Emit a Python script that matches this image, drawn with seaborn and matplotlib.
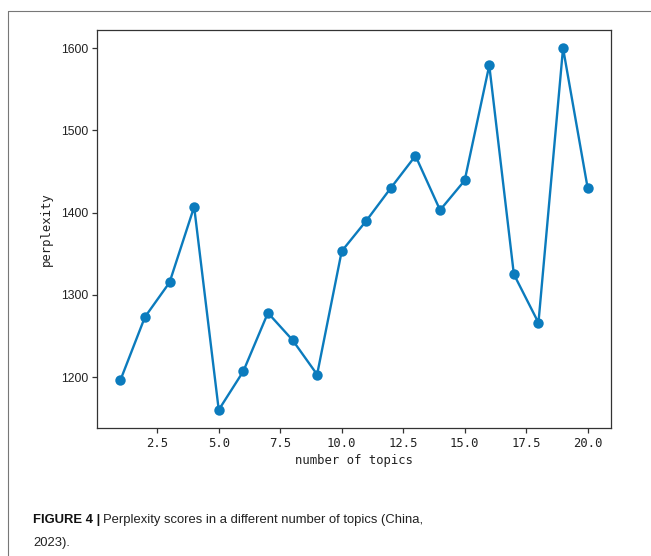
import matplotlib
matplotlib.use("Agg")
import matplotlib.pyplot as plt
from matplotlib.lines import Line2D
import seaborn as sns
import pandas as pd

# Data
topics = list(range(1, 21))
perplexity = [1196, 1273, 1315, 1407, 1160, 1207, 1278, 1245, 1203, 1353,
              1390, 1430, 1469, 1403, 1439, 1579, 1325, 1266, 1600, 1430]
x_label = "number of topics"
y_label = "perplexity"
caption_bold = "FIGURE 4 |"
caption_rest_1 = "Perplexity scores in a different number of topics (China,"
caption_line_2 = "2023)."

df = pd.DataFrame({"topics": topics, "perplexity": perplexity})

sns.set_style("ticks")
plt.rcParams["font.family"] = ["Liberation Sans", "DejaVu Sans"]

W, H = 651, 556
fig = plt.figure(figsize=(W / 100, H / 100), dpi=100)
ax = fig.add_axes([97 / W, 1 - 428 / H, (611 - 97) / W, (428 - 30) / H])

color = "#0b7bbd"
sns.lineplot(data=df, x="topics", y="perplexity", ax=ax, color=color,
             marker="o", markersize=7.5, markeredgewidth=0, linewidth=1.7)

ax.set_xlim(0.05, 20.95)
ax.set_ylim(1138, 1622)
ax.set_yticks([1200, 1300, 1400, 1500, 1600])
ax.set_xticks([2.5, 5.0, 7.5, 10.0, 12.5, 15.0, 17.5, 20.0])
ax.set_xticklabels(["2.5", "5.0", "7.5", "10.0", "12.5", "15.0", "17.5", "20.0"],
                   family="DejaVu Sans Mono", fontsize=8.8, color="#222222")
for t in ax.get_yticklabels():
    t.set_fontsize(8.8)
    t.set_color("#222222")
    t.set_family("Liberation Sans")

mono = "DejaVu Sans Mono"
ax.set_xlabel(x_label, family=mono, fontsize=8.8, color="#222222", labelpad=3)
ax.set_ylabel(y_label, family=mono, fontsize=8.8, color="#222222", labelpad=6)

for s in ax.spines.values():
    s.set_visible(True)
    s.set_color("#333333")
    s.set_linewidth(0.9)
ax.tick_params(axis="both", length=3.5, width=0.9, color="#333333", pad=3)

# Outer page frame
fx = 8 / W
fy = 1 - 11 / H
fig.add_artist(Line2D([fx, 1.0], [fy, fy], transform=fig.transFigure,
                      color="#777777", linewidth=0.8))
fig.add_artist(Line2D([fx, fx], [0, fy], transform=fig.transFigure,
                      color="#777777", linewidth=0.8))

# Caption
cap_family = ["Liberation Sans", "DejaVu Sans"]
cap_size = 9.4
x0 = 33 / W
y1 = 1 - 523 / H
y2 = 1 - 546 / H
tb = fig.text(x0, y1, caption_bold, fontsize=cap_size, fontweight="bold",
              family=cap_family, color="#111111", va="baseline")
fig.canvas.draw()
r = fig.canvas.get_renderer()
bb = tb.get_window_extent(renderer=r)
fig.text((bb.x1 + 3) / W, y1, caption_rest_1, fontsize=cap_size,
         family=cap_family, color="#222222", va="baseline")
fig.text(x0, y2, caption_line_2, fontsize=cap_size,
         family=cap_family, color="#222222", va="baseline")

fig.savefig("out.png", dpi=100)
